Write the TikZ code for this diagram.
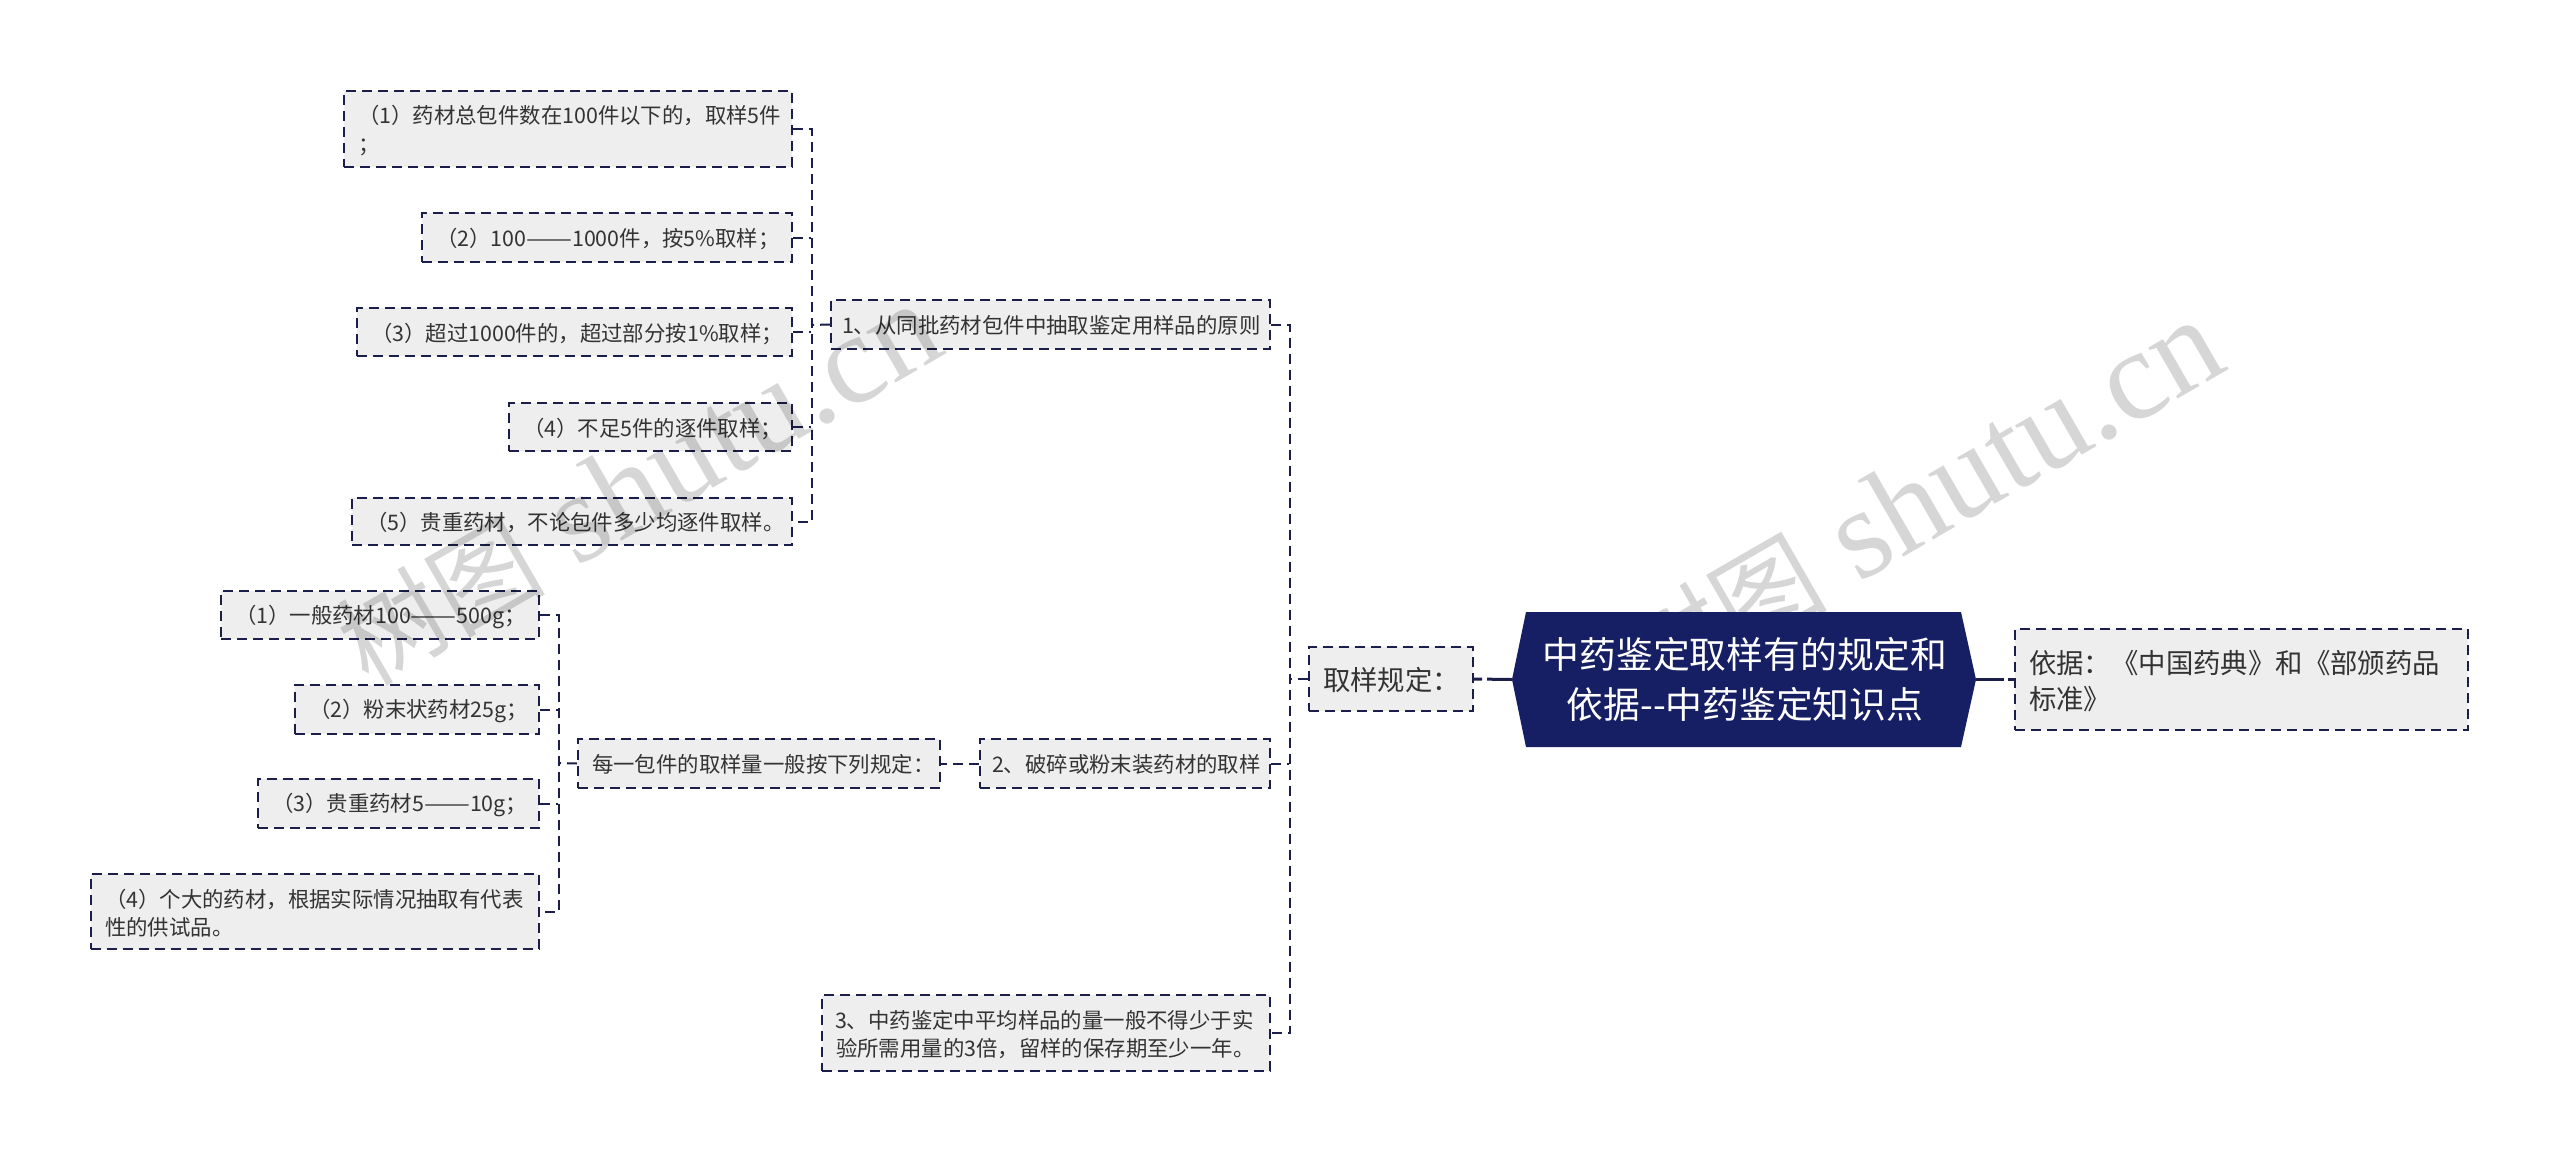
\documentclass[tikz,border=0pt]{standalone}
\usepackage{fontspec}
\setmainfont{Noto Sans CJK SC}
\newfontfamily\wmfont{Liberation Serif}
\newfontfamily\wmcjk{Noto Sans CJK SC}
\definecolor{navy}{HTML}{161F63}
\definecolor{edge}{HTML}{1B1E48}
\definecolor{boxfill}{HTML}{EEEEEE}
\definecolor{txt}{HTML}{333333}
\definecolor{wmgrey}{HTML}{D6D6D6}
\newcommand{\emd}{\scalebox{1.28}[1]{——}}
\newcommand{\wmtext}{{\wmcjk\fontsize{52pt}{52pt}\selectfont 树图} shutu.cn}
\tikzset{
  x=0.5pt,y=-0.5pt,
  dbox/.style={draw=edge,line width=1pt,dash pattern=on 5pt off 3pt,fill=boxfill,
     text=txt,font=\fontsize{10.7pt}{14.4pt}\selectfont,rectangle,inner xsep=7pt,inner ysep=0pt,align=left},
  big/.style={font=\fontsize{13.7pt}{18pt}\selectfont},
  link/.style={draw=edge,line width=1pt,dash pattern=on 5pt off 3pt},
  rootlinkL/.style={draw=edge,line width=1.5pt,dash pattern=on 4pt off 2.5pt on 20pt off 0pt},
  rootlinkR/.style={draw=edge,line width=1.5pt,dash pattern=on 14pt off 2pt on 4pt off 0pt},
  wm/.style={text=wmgrey,rotate=30,anchor=base west,font=\wmfont\fontsize{64pt}{64pt}\selectfont,inner sep=0pt},
}
\newcommand{\mybox}[8]{% name x0 y0 x1 y1 style text text
  \node[dbox,#6,anchor=center,text width={(#4-#2)*0.5pt-14pt},minimum height={(#5-#3)*0.5pt}] (#1) at ({(#2+#4)/2},{(#3+#5)/2}) {#7#8\vspace{-1.6pt}};}
\begin{document}
\begin{tikzpicture}
\useasboundingbox (0,0) rectangle (2560,1163);
\fill[white] (0,0) rectangle (2560,1163);
% boxes
\mybox{r}{2015}{629}{2468}{730}{big}{依据：《中国药典》和《部颁药品\\}{标准》}
\mybox{q}{1309}{647}{1473}{711}{big}{取样规定：}{}
\mybox{n1}{831}{300}{1270}{349}{}{\kern-1.5pt 1、从同批药材包件中抽取鉴定用样品的原则}{}
\mybox{n2}{980}{739}{1270}{788}{}{\kern-1pt 2、破碎或粉末装药材的取样}{}
\mybox{n3}{822}{995}{1270}{1071}{}{\kern-0.5pt 3、中药鉴定中平均样品的量一般不得少于实\\}{验所需用量的3倍，留样的保存期至少一年。}
\mybox{m}{578}{739}{940}{788}{}{每一包件的取样量一般按下列规定：}{}
\mybox{a1}{344}{91}{792}{167}{}{（1）药材总包件数在100件以下的，取样5件\\}{；}
\mybox{a2}{422}{213}{792}{262}{}{（2）100\emd 1000件，按5\%取样；}{}
\mybox{a3}{357}{308}{792}{356}{}{（3）超过1000件的，超过部分按1\%取样；}{}
\mybox{a4}{509}{403}{792}{451}{}{（4）不足5件的逐件取样；}{}
\mybox{a5}{352}{498}{792}{545}{}{（5）贵重药材，不论包件多少均逐件取样。}{}
\mybox{b1}{221}{591}{539}{639}{}{（1）一般药材100\emd 500g；}{}
\mybox{b2}{295}{685}{539}{734}{}{（2）粉末状药材25g；}{}
\mybox{b3}{258}{779}{539}{828}{}{（3）贵重药材5\emd 10g；}{}
\mybox{b4}{91}{874}{539}{949}{}{（4）个大的药材，根据实际情况抽取有代表\\}{性的供试品。}
% connectors
\coordinate (rootL) at (1512,679.5);
\coordinate (rootR) at (1976,679.5);
\coordinate (s0) at (1289,679);
\draw[link] (q.west) -- (s0);
\draw[link] (n1.east) -- ++(19,0) |- (n3.east);
\draw[link] (n2.east) -- (n2.east -| s0);
\coordinate (s1) at (811,325);
\draw[link] (n1.west) -- (s1);
\draw[link] (a1.east) -- ++(19,0) |- (a5.east);
\draw[link] (a2.east) -- (a2.east -| s1);
\draw[link] (a3.east) -- (a3.east -| s1);
\draw[link] (a4.east) -- (a4.east -| s1);
\coordinate (s2) at (558,763);
\draw[link] (n2.west) -- (m.east);
\draw[link] (m.west) -- (s2);
\draw[link] (b1.east) -- ++(19,0) |- (b4.east);
\draw[link] (b2.east) -- (b2.east -| s2);
\draw[link] (b3.east) -- (b3.east -| s2);
\draw[rootlinkL] (q.east) -- (rootL);
\draw[rootlinkR] (rootR) -- (r.west);
% watermarks
\begin{scope}[blend mode=multiply]
\node[wm] (w1) at (368,688) {\wmtext};
\node[wm] (w2) at (1650,704) {\wmtext};
\end{scope}
% root
\path[fill=navy] (1512,679.5) -- (1526,612) -- (1961,612) -- (1976,679.5) -- (1961,747) -- (1526,747) -- cycle;
\node[text=white,align=center,font=\fontsize{18.4pt}{25pt}\selectfont,inner sep=0pt] (roottext) at (1745,679.5) {中药鉴定取样有的规定和\\依据-{}-中药鉴定知识点};
\end{tikzpicture}
\end{document}
